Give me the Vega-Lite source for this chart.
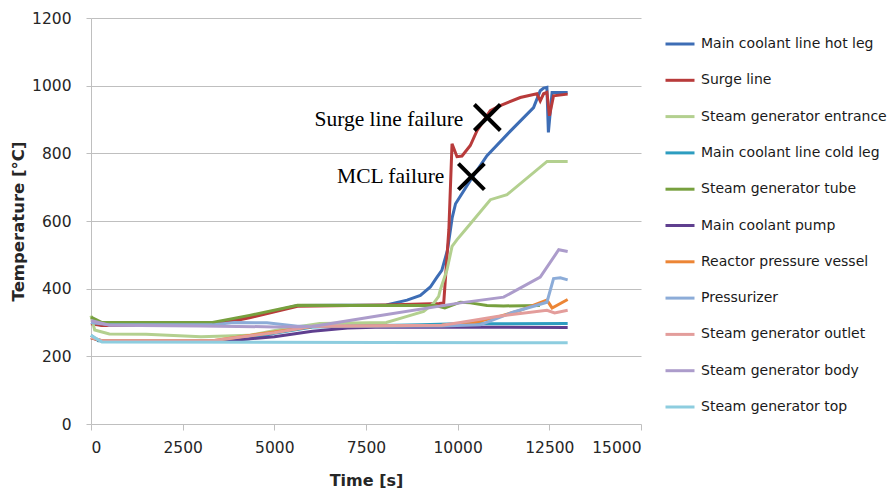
{
  "$schema": "https://vega.github.io/schema/vega-lite/v6.json",
  "width": 550,
  "height": 406,
  "autosize": {"type": "none"},
  "padding": {"left": 91, "top": 18, "right": 252, "bottom": 70},
  "background": "white",
  "config": {"view": {"stroke": null}, "font": "DejaVu Sans"},
  "layer": [
    {
      "data": {"values": [
        {"s":"Main coolant line hot leg","t":0,"v":300},{"s":"Main coolant line hot leg","t":300,"v":292},{"s":"Main coolant line hot leg","t":1000,"v":292},{"s":"Main coolant line hot leg","t":3313,"v":294},{"s":"Main coolant line hot leg","t":4322,"v":316},{"s":"Main coolant line hot leg","t":5633,"v":350},{"s":"Main coolant line hot leg","t":8055,"v":352},{"s":"Main coolant line hot leg","t":8620,"v":366},{"s":"Main coolant line hot leg","t":8983,"v":380},{"s":"Main coolant line hot leg","t":9255,"v":405},{"s":"Main coolant line hot leg","t":9437,"v":434},{"s":"Main coolant line hot leg","t":9568,"v":454},{"s":"Main coolant line hot leg","t":9720,"v":513},{"s":"Main coolant line hot leg","t":9800,"v":572},{"s":"Main coolant line hot leg","t":9851,"v":610},{"s":"Main coolant line hot leg","t":9942,"v":651},{"s":"Main coolant line hot leg","t":10345,"v":720},{"s":"Main coolant line hot leg","t":10799,"v":793},{"s":"Main coolant line hot leg","t":11430,"v":865},{"s":"Main coolant line hot leg","t":12070,"v":935},{"s":"Main coolant line hot leg","t":12252,"v":985},{"s":"Main coolant line hot leg","t":12343,"v":993},{"s":"Main coolant line hot leg","t":12434,"v":995},{"s":"Main coolant line hot leg","t":12474,"v":862},{"s":"Main coolant line hot leg","t":12575,"v":980},{"s":"Main coolant line hot leg","t":13000,"v":980},
        {"s":"Surge line","t":0,"v":296},{"s":"Surge line","t":300,"v":291},{"s":"Surge line","t":3313,"v":292},{"s":"Surge line","t":4322,"v":314},{"s":"Surge line","t":5633,"v":348},{"s":"Surge line","t":8055,"v":352},{"s":"Surge line","t":9500,"v":356},{"s":"Surge line","t":9620,"v":358},{"s":"Surge line","t":9760,"v":575},{"s":"Surge line","t":9846,"v":828},{"s":"Surge line","t":9982,"v":790},{"s":"Surge line","t":10118,"v":792},{"s":"Surge line","t":10345,"v":823},{"s":"Surge line","t":10527,"v":867},{"s":"Surge line","t":10890,"v":926},{"s":"Surge line","t":11162,"v":941},{"s":"Surge line","t":11707,"v":965},{"s":"Surge line","t":12161,"v":976},{"s":"Surge line","t":12252,"v":955},{"s":"Surge line","t":12343,"v":976},{"s":"Surge line","t":12434,"v":980},{"s":"Surge line","t":12504,"v":911},{"s":"Surge line","t":12615,"v":970},{"s":"Surge line","t":13000,"v":975},
        {"s":"Steam generator entrance","t":0,"v":320},{"s":"Steam generator entrance","t":100,"v":278},{"s":"Steam generator entrance","t":500,"v":266},{"s":"Steam generator entrance","t":1500,"v":265},{"s":"Steam generator entrance","t":3000,"v":258},{"s":"Steam generator entrance","t":4322,"v":262},{"s":"Steam generator entrance","t":5200,"v":280},{"s":"Steam generator entrance","t":6239,"v":297},{"s":"Steam generator entrance","t":8055,"v":300},{"s":"Steam generator entrance","t":8620,"v":318},{"s":"Steam generator entrance","t":9073,"v":333},{"s":"Steam generator entrance","t":9346,"v":357},{"s":"Steam generator entrance","t":9482,"v":377},{"s":"Steam generator entrance","t":9528,"v":397},{"s":"Steam generator entrance","t":9710,"v":456},{"s":"Steam generator entrance","t":9847,"v":525},{"s":"Steam generator entrance","t":9983,"v":545},{"s":"Steam generator entrance","t":10210,"v":574},{"s":"Steam generator entrance","t":10892,"v":663},{"s":"Steam generator entrance","t":11347,"v":678},{"s":"Steam generator entrance","t":12438,"v":776},{"s":"Steam generator entrance","t":13000,"v":776},
        {"s":"Main coolant line cold leg","t":0,"v":262},{"s":"Main coolant line cold leg","t":200,"v":246},{"s":"Main coolant line cold leg","t":3313,"v":245},{"s":"Main coolant line cold leg","t":4322,"v":252},{"s":"Main coolant line cold leg","t":5000,"v":268},{"s":"Main coolant line cold leg","t":6037,"v":287},{"s":"Main coolant line cold leg","t":9000,"v":293},{"s":"Main coolant line cold leg","t":10000,"v":296},{"s":"Main coolant line cold leg","t":13000,"v":297},
        {"s":"Steam generator tube","t":0,"v":316},{"s":"Steam generator tube","t":300,"v":300},{"s":"Steam generator tube","t":3313,"v":300},{"s":"Steam generator tube","t":4322,"v":321},{"s":"Steam generator tube","t":5633,"v":351},{"s":"Steam generator tube","t":9400,"v":350},{"s":"Steam generator tube","t":9650,"v":343},{"s":"Steam generator tube","t":10073,"v":360},{"s":"Steam generator tube","t":10345,"v":358},{"s":"Steam generator tube","t":10800,"v":350},{"s":"Steam generator tube","t":11253,"v":349},{"s":"Steam generator tube","t":12242,"v":350},
        {"s":"Main coolant pump","t":0,"v":255},{"s":"Main coolant pump","t":300,"v":245},{"s":"Main coolant pump","t":3500,"v":244},{"s":"Main coolant pump","t":5000,"v":258},{"s":"Main coolant pump","t":6037,"v":274},{"s":"Main coolant pump","t":7000,"v":284},{"s":"Main coolant pump","t":8000,"v":287},{"s":"Main coolant pump","t":13000,"v":285},
        {"s":"Reactor pressure vessel","t":0,"v":255},{"s":"Reactor pressure vessel","t":300,"v":246},{"s":"Reactor pressure vessel","t":3313,"v":246},{"s":"Reactor pressure vessel","t":5000,"v":272},{"s":"Reactor pressure vessel","t":6037,"v":288},{"s":"Reactor pressure vessel","t":9568,"v":292},{"s":"Reactor pressure vessel","t":10345,"v":297},{"s":"Reactor pressure vessel","t":11071,"v":316},{"s":"Reactor pressure vessel","t":11700,"v":336},{"s":"Reactor pressure vessel","t":12434,"v":366},{"s":"Reactor pressure vessel","t":12575,"v":343},{"s":"Reactor pressure vessel","t":13000,"v":368},
        {"s":"Pressurizer","t":0,"v":300},{"s":"Pressurizer","t":500,"v":293},{"s":"Pressurizer","t":3313,"v":293},{"s":"Pressurizer","t":3900,"v":300},{"s":"Pressurizer","t":4800,"v":299},{"s":"Pressurizer","t":5633,"v":289},{"s":"Pressurizer","t":9568,"v":290},{"s":"Pressurizer","t":10617,"v":293},{"s":"Pressurizer","t":11525,"v":331},{"s":"Pressurizer","t":12070,"v":348},{"s":"Pressurizer","t":12434,"v":360},{"s":"Pressurizer","t":12615,"v":430},{"s":"Pressurizer","t":12800,"v":432},{"s":"Pressurizer","t":13000,"v":426},
        {"s":"Steam generator outlet","t":0,"v":256},{"s":"Steam generator outlet","t":300,"v":246},{"s":"Steam generator outlet","t":3313,"v":246},{"s":"Steam generator outlet","t":5000,"v":270},{"s":"Steam generator outlet","t":6037,"v":289},{"s":"Steam generator outlet","t":9568,"v":292},{"s":"Steam generator outlet","t":10073,"v":300},{"s":"Steam generator outlet","t":11071,"v":318},{"s":"Steam generator outlet","t":12434,"v":336},{"s":"Steam generator outlet","t":12645,"v":328},{"s":"Steam generator outlet","t":13000,"v":336},
        {"s":"Steam generator body","t":0,"v":306},{"s":"Steam generator body","t":500,"v":292},{"s":"Steam generator body","t":3000,"v":290},{"s":"Steam generator body","t":5000,"v":287},{"s":"Steam generator body","t":6037,"v":288},{"s":"Steam generator body","t":7893,"v":321},{"s":"Steam generator body","t":10073,"v":358},{"s":"Steam generator body","t":11253,"v":375},{"s":"Steam generator body","t":12252,"v":434},{"s":"Steam generator body","t":12756,"v":515},{"s":"Steam generator body","t":13000,"v":510},
        {"s":"Steam generator top","t":0,"v":262},{"s":"Steam generator top","t":300,"v":242},{"s":"Steam generator top","t":13000,"v":240}
      ]},
      "mark": {"type": "line", "strokeWidth": 3},
      "encoding": {
        "x": {"field": "t", "type": "quantitative",
          "scale": {"domain": [0, 15000], "nice": false},
          "axis": {"title": "Time [s]", "format": "d",
            "values": [0,2500,5000,7500,10000,12500,15000],
            "labelOverlap": false,
            "grid": false, "domainColor": "#BFBFBF", "tickColor": "#BFBFBF", "tickSize": 6,
            "labelFont": "DejaVu Sans", "labelFontSize": 15.5, "labelColor": "#262626", "labelPadding": 10, "labelFlush": true,
            "titleFont": "DejaVu Sans", "titleFontSize": 16, "titleFontWeight": "bold", "titleColor": "#262626", "titlePadding": 17}},
        "y": {"field": "v", "type": "quantitative",
          "scale": {"domain": [0, 1200], "nice": false},
          "axis": {"title": "Temperature [°C]", "format": "d",
            "values": [0,50,100,150,200,250,300,350,400,450,500,550,600,650,700,750,800,850,900,950,1000,1050,1100,1150,1200],
            "labelExpr": "datum.value % 200 === 0 ? datum.label : ''",
            "labelOverlap": false,
            "grid": true, "gridColor": "#BFBFBF",
            "gridOpacity": {"condition": {"test": "datum.value % 200 === 0 && datum.value > 0", "value": 1}, "value": 0},
            "domainColor": "#BFBFBF", "tickColor": "#BFBFBF",
            "tickSize": {"condition": {"test": "datum.value % 200 === 0", "value": 5}, "value": 3},
            "labelFont": "DejaVu Sans", "labelFontSize": 15.5, "labelColor": "#262626", "labelPadding": 15,
            "titleFont": "DejaVu Sans", "titleFontSize": 16.5, "titleFontWeight": "bold", "titleColor": "#262626", "titlePadding": 5}},
        "color": {"field": "s", "type": "nominal",
          "scale": {
            "domain": ["Main coolant line hot leg","Surge line","Steam generator entrance","Main coolant line cold leg","Steam generator tube","Main coolant pump","Reactor pressure vessel","Pressurizer","Steam generator outlet","Steam generator body","Steam generator top"],
            "range": ["#3D6DB5","#B83B3B","#B3D08F","#2D9DC0","#77A03E","#5F3F8F","#EC8535","#8CACD8","#E39D9B","#AC9CCB","#8DCDDF"]},
          "legend": {"orient": "none", "legendX": 573, "legendY": 10, "title": null,
            "symbolType": "stroke", "symbolSize": 841, "symbolStrokeWidth": 3,
            "labelFont": "DejaVu Sans", "labelFontSize": 14, "labelColor": "#1a1a1a", "labelOffset": 5,
            "rowPadding": 13.3, "labelLimit": 300}}
      }
    },
    {
      "data": {"values": [
        {"t": 10155, "v": 882, "txt": "Surge line failure"},
        {"t": 9637, "v": 713, "txt": "MCL failure"}
      ]},
      "mark": {"type": "text", "align": "right", "baseline": "alphabetic", "font": "Liberation Serif", "fontSize": 21.5, "color": "black"},
      "encoding": {
        "x": {"field": "t", "type": "quantitative"},
        "y": {"field": "v", "type": "quantitative"},
        "text": {"field": "txt"}
      }
    },
    {
      "data": {"values": [
        {"t": 10810, "v": 906},
        {"t": 10374, "v": 731}
      ]},
      "mark": {"type": "point", "shape": "M-1,-1L1,1M-1,1L1,-1", "size": 676, "filled": false, "stroke": "black", "strokeWidth": 4, "opacity": 1},
      "encoding": {
        "x": {"field": "t", "type": "quantitative"},
        "y": {"field": "v", "type": "quantitative"}
      }
    }
  ]
}
